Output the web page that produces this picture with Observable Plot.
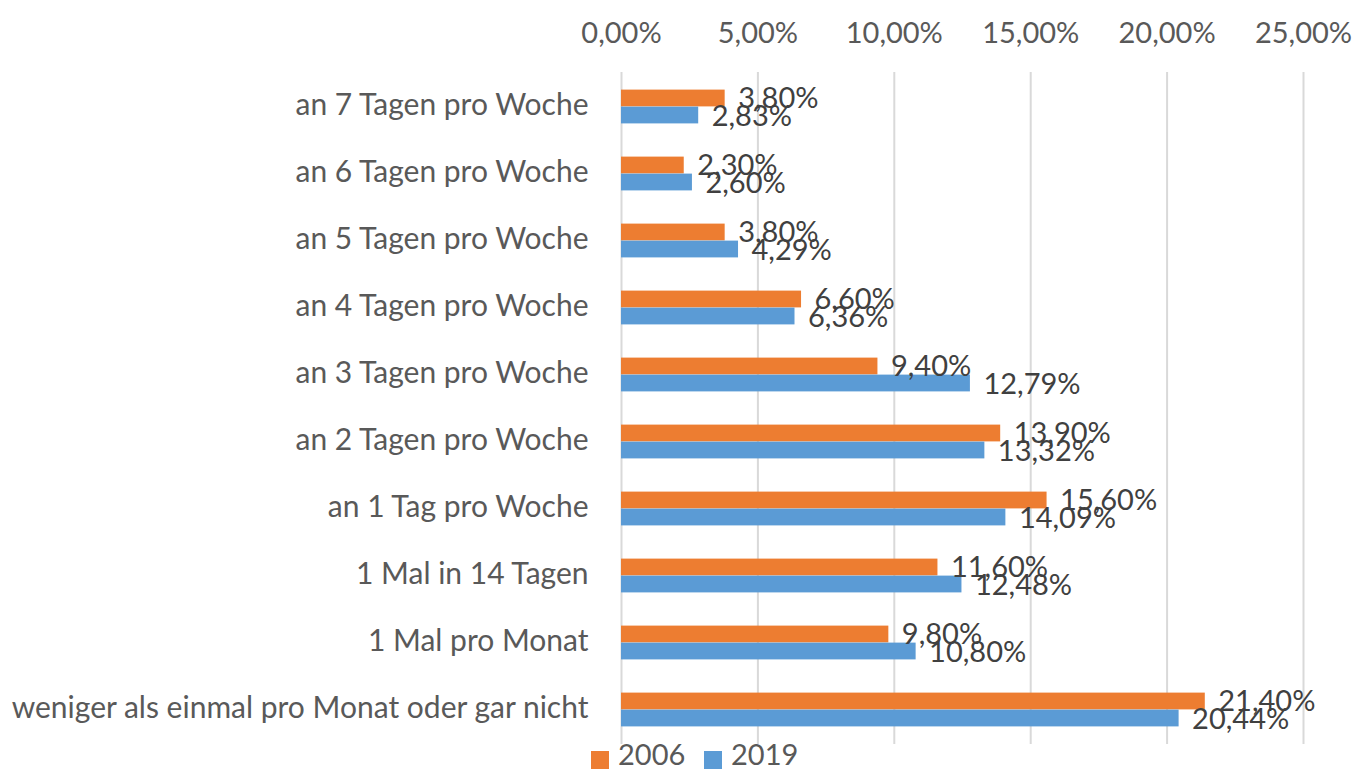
<!DOCTYPE html>
<html>
<head>
<meta charset="utf-8">
<script src="https://cdn.jsdelivr.net/npm/d3@7"></script>
<script src="https://cdn.jsdelivr.net/npm/@observablehq/plot@0.6"></script>
<style>
  html, body { margin: 0; padding: 0; background: #fff; }
  #chart { width: 1354px; }
  #legend { position: relative; width: 1354px; height: 24px; font-family: Lato, sans-serif; font-size: 29px; color: #595959; }
  #legend .sw { position: absolute; top: 6px; width: 18px; height: 18px; }
  #legend .lb { position: absolute; top: -6px; line-height: 30px; }
</style>
</head>
<body>
<div id="chart"></div>
<div id="legend"></div>
<script>
const categories = [
  "an 7 Tagen pro Woche",
  "an 6 Tagen pro Woche",
  "an 5 Tagen pro Woche",
  "an 4 Tagen pro Woche",
  "an 3 Tagen pro Woche",
  "an 2 Tagen pro Woche",
  "an 1 Tag pro Woche",
  "1 Mal in 14 Tagen",
  "1 Mal pro Monat",
  "weniger als einmal pro Monat oder gar nicht"
];
const values2006 = [3.80, 2.30, 3.80, 6.60, 9.40, 13.90, 15.60, 11.60, 9.80, 21.40];
const values2019 = [2.83, 2.60, 4.29, 6.36, 12.79, 13.32, 14.09, 12.48, 10.80, 20.44];
const seriesNames = ["2006", "2019"];
const seriesColors = ["#ED7D31", "#5B9BD5"];
const xTicks = [0, 5, 10, 15, 20, 25];

const fmt = d => d.toFixed(2).replace(".", ",") + "%";

const d2006 = categories.map((c, i) => ({cat: c, v: values2006[i]}));
const d2019 = categories.map((c, i) => ({cat: c, v: values2019[i]}));

const W = 1354, H = 745;
const mTop = 72, mBottom = 1, mLeft = 621, mRight = 51;
const band = (H - mTop - mBottom) / categories.length;
const barH = 17;

const chart = Plot.plot({
  width: W,
  height: H,
  marginTop: mTop,
  marginBottom: mBottom,
  marginLeft: mLeft,
  marginRight: mRight,
  style: {fontFamily: "Lato, sans-serif", fontSize: "29px", color: "#595959", background: "#fff", overflow: "visible"},
  x: {domain: [0, 25], ticks: xTicks, tickFormat: fmt, label: null},
  y: {domain: categories, padding: 0, label: null},
  marks: [
    Plot.gridX(xTicks, {stroke: "#d9d9d9", strokeOpacity: 1, strokeWidth: 2}),
    Plot.barX(d2006, {x: "v", y: "cat", fill: seriesColors[0], insetTop: band / 2 - barH, insetBottom: band / 2}),
    Plot.barX(d2019, {x: "v", y: "cat", fill: seriesColors[1], insetTop: band / 2, insetBottom: band / 2 - barH}),
    Plot.axisX({anchor: "top", ticks: xTicks, tickFormat: fmt, tickSize: 0, tickPadding: 30, fill: "#595959", label: null}),
    Plot.axisY({tickSize: 0, tickPadding: 33, fill: "#595959", fontSize: 30, dy: -2, label: null}),
    Plot.text(d2006, {x: "v", y: "cat", text: d => fmt(d.v), dx: 13, dy: -8, textAnchor: "start", fill: "#404040"}),
    Plot.text(d2019, {x: "v", y: "cat", text: d => fmt(d.v), dx: 13, dy: 10, textAnchor: "start", fill: "#404040"})
  ]
});
document.getElementById("chart").appendChild(chart);

const legend = document.getElementById("legend");
const legendPos = [[591, 618], [704, 731]];
seriesNames.forEach((name, i) => {
  const sw = document.createElement("div");
  sw.className = "sw";
  sw.style.left = legendPos[i][0] + "px";
  sw.style.background = seriesColors[i];
  legend.appendChild(sw);
  const lb = document.createElement("div");
  lb.className = "lb";
  lb.style.left = legendPos[i][1] + "px";
  lb.textContent = name;
  legend.appendChild(lb);
});
</script>
</body>
</html>
